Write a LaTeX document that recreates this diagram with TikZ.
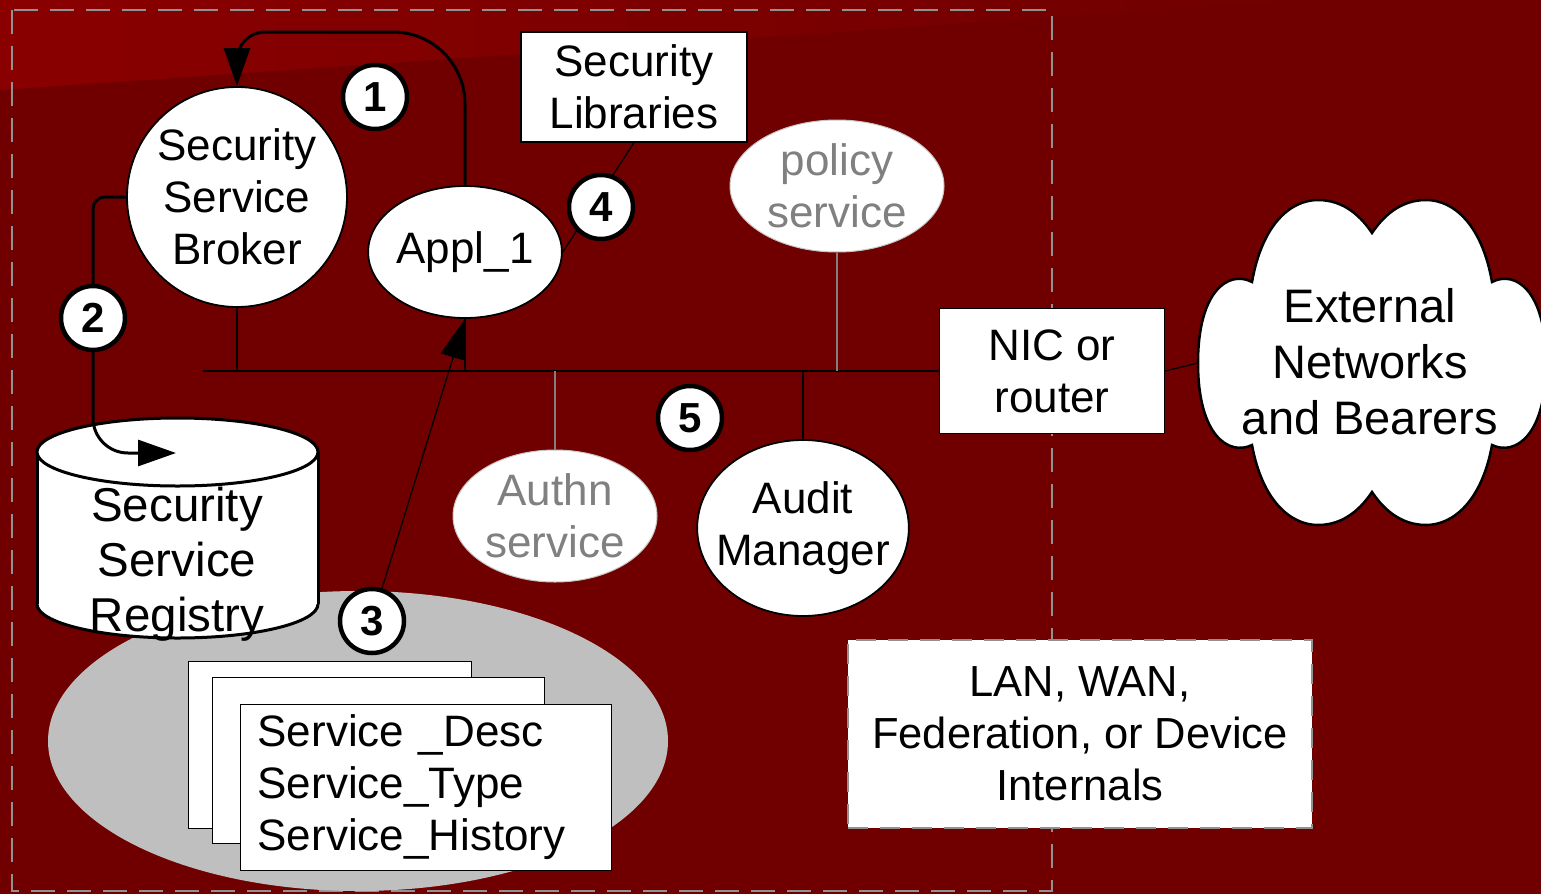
\documentclass[tikz,border=0pt]{standalone}
\usepackage{fontspec}
\setmainfont{Liberation Sans}
\usetikzlibrary{arrows.meta, positioning, shapes.geometric}
\definecolor{bgred}{RGB}{112,0,0}
\definecolor{bglight}{RGB}{138,0,0}
\definecolor{framegray}{RGB}{145,145,145}
\definecolor{padgray}{RGB}{191,191,191}

\begin{document}
\begin{tikzpicture}[x=1pt, y=-1pt,
    every node/.style={font=\fontsize{44}{52}\selectfont, align=center, inner sep=0pt},
    unit/.style={draw, ellipse, fill=white, line width=1.8pt},
    faint/.style={draw=gray!45, ellipse, fill=white, text=gray, line width=1pt},
    plate/.style={draw, fill=white, line width=1.2pt},
    num/.style={circle, draw, fill=white, line width=4.5pt, minimum size=64pt, font=\fontsize{42}{42}\selectfont\bfseries},
    flow/.style={line width=3pt, -{Triangle[length=38pt, width=26pt]}},
    wire/.style={line width=1.3pt}]
    \useasboundingbox (0,0) rectangle (1541,894);

    % backdrop and host boundary
    \fill[bgred] (0,0) rectangle (1541,894);
    \shade[left color=bglight, right color=bgred] (0,0) -- (1300,0) -- (0,90) -- cycle;
    \draw[framegray, line width=2.5pt, dash pattern=on 24pt off 12pt] (12,10) rectangle (1052,891);
    \fill[padgray] (358,741) ellipse [x radius=310pt, y radius=150pt];

    % registry records
    \node[plate, minimum width=283pt, minimum height=167pt, anchor=north west] (sheetA) at (188,661) {};
    \node[plate, minimum width=332pt, minimum height=166pt, anchor=north west] (sheetB) at (212,677) {};
    \node[plate, minimum width=371pt, minimum height=166pt, anchor=north west,
          inner xsep=17pt, text width=337pt, align=left] (sheetC) at (240,704)
          {Service \_Desc\\Service\_Type\\Service\_History};

    % registry store
    \draw[line width=3pt, fill=white] (177.5,604) ellipse [x radius=140.5pt, y radius=34pt];
    \fill[white] (37,452) rectangle (318,604);
    \draw[line width=3pt] (37,452) -- (37,604) (318,452) -- (318,604);
    \draw[line width=3pt, fill=white] (177.5,452) ellipse [x radius=140.5pt, y radius=34pt];
    \node[font=\fontsize{47.5}{55}\selectfont] (registry) at (177,564) {Security\\Service\\Registry};

    % outside world
    \draw[line width=2.5pt, fill=white] (1252,282)
        .. controls (1262,225) and (1290,200) .. (1318,200)
        .. controls (1345,200) and (1362,218) .. (1372,233)
        .. controls (1382,218) and (1399,200) .. (1426,200)
        .. controls (1454,200) and (1482,225) .. (1492,282)
        .. controls (1515,270) and (1546,290) .. (1546,363)
        .. controls (1546,436) and (1515,456) .. (1492,445)
        .. controls (1482,500) and (1454,525) .. (1426,525)
        .. controls (1399,525) and (1382,507) .. (1372,492)
        .. controls (1362,507) and (1345,525) .. (1318,525)
        .. controls (1290,525) and (1262,500) .. (1252,445)
        .. controls (1229,456) and (1198,436) .. (1198,363)
        .. controls (1198,290) and (1229,270) .. (1252,282) -- cycle;
    \coordinate (cloudin) at (1198,363);
    \node[font=\fontsize{47}{56}\selectfont] (extnet) at (1370,362) {External\\Networks\\and Bearers};

    \node[unit, circle, minimum size=220pt] (broker) at (237,197) {Security\\Service\\Broker};
    \node[unit, minimum width=192pt, minimum height=132pt] (appl) at (465,252) {Appl\_1};
    \node[plate, minimum width=226pt, minimum height=110pt] (libs) at (634,87) {Security\\Libraries};
    \node[faint, minimum width=214pt, minimum height=132pt] (policy) at (837,186) {policy\\service};
    \node[faint, minimum width=204pt, minimum height=132pt] (authn) at (555,516) {Authn\\service};
    \node[unit, inner xsep=-12pt, minimum width=210pt, minimum height=176pt] (audit) at (803,528) {Audit\\Manager};
    \node[plate, minimum width=225pt, minimum height=125pt] (nic) at (1052,371) {NIC or\\router};
    \node[plate, draw=framegray, dash pattern=on 20pt off 12pt, line width=2.5pt,
          minimum width=464pt, minimum height=188pt, font=\fontsize{43.5}{52}\selectfont] (lan) at (1080,734)
          {LAN, WAN,\\Federation, or Device\\Internals};

    % bus
    \coordinate (busend) at (203,371);
    \draw[wire] (busend) -- (nic.west);
    \draw[wire] (broker.south) -- (broker.south |- busend);
    \draw[wire] (appl.south) -- (appl.south |- busend);
    \draw[wire, gray] (policy.south) -- (policy.south |- busend);
    \draw[wire, gray] (authn.north) -- (authn.north |- busend);
    \draw[wire] (audit.north) -- (audit.north |- busend);
    \draw[wire] (nic.east) -- (cloudin);
    \draw[wire] (libs.south) -- (appl.east);

    % numbered flows
    \coordinate (ceil) at (0,32);
    \coordinate (side) at (93,0);
    \coordinate (regin) at (176,453);
    \draw[flow] (appl.north) [rounded corners=72pt] -- (appl.north |- ceil)
        [rounded corners=28pt] -- (broker.north |- ceil) [sharp corners] -- (broker.north);
    \draw[flow] (broker.west) [rounded corners=12pt] -- (side |- broker.west)
        [rounded corners=35pt] -- (side |- regin) [sharp corners] -- (regin);

    \node[num] (m1) at (375,97) {1};
    \node[num] (m2) at (93,318) {2};
    \node[num] (m3) at (372,621) {3};
    \node[num] (m4) at (601,207) {4};
    \node[num] (m5) at (690,418) {5};
    \draw[wire, -{Triangle[length=40pt, width=26pt]}] (m3) -- (appl.south);
\end{tikzpicture}
\end{document}
